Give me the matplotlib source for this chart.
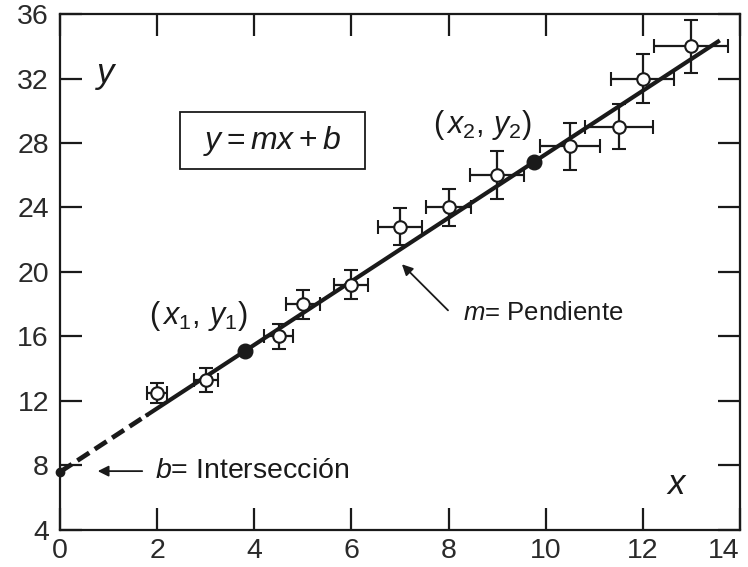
import numpy as np
import matplotlib
matplotlib.use('Agg')
from matplotlib import pyplot as plt
from matplotlib.patches import Rectangle

plt.rcParams['font.family'] = ['Liberation Sans', 'DejaVu Sans']
plt.rcParams['mathtext.fontset'] = 'custom'
plt.rcParams['mathtext.rm'] = 'Liberation Sans'
plt.rcParams['mathtext.it'] = 'Liberation Sans:italic'

# measured points with uncertainties
x_data = [2, 3, 4.5, 5, 6, 7, 8, 9, 10.5, 11.5, 12, 13]
y_data = [12.5, 13.3, 16.0, 18.0, 19.2, 22.8, 24.0, 26.0, 27.8, 29.0, 32.0, 34.0]
x_err = [0.2, 0.25, 0.3, 0.35, 0.35, 0.45, 0.47, 0.55, 0.62, 0.7, 0.65, 0.76]
y_err = [0.6, 0.75, 0.8, 0.9, 0.9, 1.15, 1.15, 1.5, 1.45, 1.4, 1.55, 1.65]

# fitted line y = m x + b
b = 7.6
m = 1.97
x_dash_end = 1.8
x_line_end = 13.55
x_pts = [3.8, 9.75]

x_ticks = [0, 2, 4, 6, 8, 10, 12, 14]
y_ticks = [4, 8, 12, 16, 20, 24, 28, 32, 36]

ink = '#1a1a1a'

fig = plt.figure(figsize=(7.48, 5.67), dpi=100)
ax = fig.add_axes([0.0802, 0.0653, 0.909, 0.910])

xd = np.array([0, x_dash_end])
ax.plot(xd, m * xd + b, color=ink, lw=3.4, ls=(0, (3, 1.4)), solid_capstyle='butt')
xs = np.array([x_dash_end, x_line_end])
ax.plot(xs, m * xs + b, color=ink, lw=3)

ax.errorbar(x_data, y_data, xerr=x_err, yerr=y_err, fmt='o', color=ink,
            mfc='white', mec=ink, mew=1.5, ms=9, elinewidth=1.6,
            capsize=5, capthick=1.6, zorder=3)

xp = np.array(x_pts)
ax.plot(xp, m * xp + b, 'o', color=ink, ms=10.5, zorder=4)
ax.plot([0], [b], 'o', color=ink, ms=6, zorder=4, clip_on=False)

ax.set_xlim(0, 14)
ax.set_ylim(4, 36)
ax.set_xticks(x_ticks)
ax.set_yticks(y_ticks)
ax.tick_params(direction='in', length=16, width=1.6, labelsize=20.5,
               top=True, right=True, color=ink, labelcolor='#2a2a2a')
ax.tick_params(axis='x', pad=6)
ax.tick_params(axis='y', pad=8)
ax.get_xticklabels()[-1].set_horizontalalignment('right')
for s in ax.spines.values():
    s.set_linewidth(1.6)
    s.set_color(ink)

ax.text(0.95, 32.2, r'$y$', fontsize=25, color=ink, ha='center', va='center')
ax.text(12.7, 6.85, r'$x$', fontsize=25, color=ink, ha='center', va='center')

ax.add_patch(Rectangle((2.47, 26.4), 3.81, 3.52, fill=False, ec=ink, lw=1.3))
ax.text(4.37, 28.15, r'$y = mx + b$', fontsize=23, color=ink, ha='center', va='center')

ax.text(2.85, 17.3, r'$(\,x_1,\,y_1)$', fontsize=22, color=ink, ha='center', va='center')
ax.text(8.7, 29.1, r'$(\,x_2,\,y_2)$', fontsize=22, color=ink, ha='center', va='center')

ax.annotate('', xy=(0.72, 7.65), xytext=(1.75, 7.65),
            arrowprops=dict(arrowstyle='-|>', color=ink, lw=1.3, mutation_scale=16))
ax.text(1.95, 7.65, r'$b$' + '= Intersección', fontsize=20.5, color=ink, va='center')

ax.annotate('', xy=(7.0, 20.6), xytext=(8.03, 17.5),
            arrowprops=dict(arrowstyle='-|>', color=ink, lw=1.3, mutation_scale=16))
ax.text(8.3, 17.45, r'$m$' + '= Pendiente', fontsize=18.5, color=ink, va='center')

fig.savefig('out.png', dpi=100)
